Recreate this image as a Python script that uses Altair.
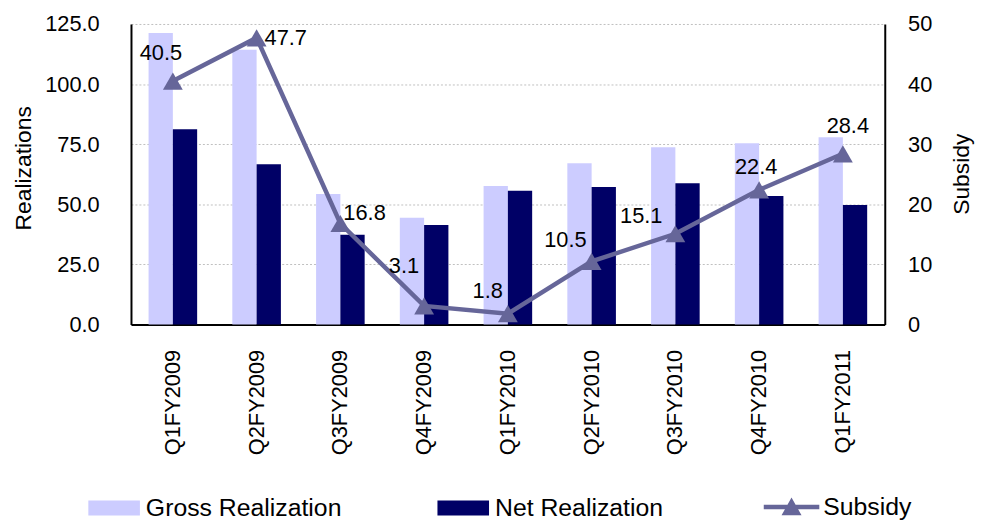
import altair as alt
import pandas as pd

categories = ["Q1FY2009", "Q2FY2009", "Q3FY2009", "Q4FY2009", "Q1FY2010",
              "Q2FY2010", "Q3FY2010", "Q4FY2010", "Q1FY2011"]
gross = [121.2, 114.3, 54.3, 44.4, 57.6, 67.1, 73.7, 75.4, 77.9]
net = [81.2, 66.7, 37.3, 41.4, 55.6, 57.2, 58.8, 53.4, 49.7]
subsidy = [40.5, 47.7, 16.8, 3.1, 1.8, 10.5, 15.1, 22.4, 28.4]
series_names = ["Gross Realization", "Net Realization"]
line_name = "Subsidy"

FONT = "Liberation Sans"
C_GROSS, C_NET, C_LINE = "#CCCCFF", "#000066", "#666699"

bars_df = pd.DataFrame({
    "cat": categories * 2,
    "series": [series_names[0]] * len(categories) + [series_names[1]] * len(categories),
    "value": gross + net,
})
sub_df = pd.DataFrame({"cat": categories, "sub": subsidy, "s": [line_name] * len(categories)})

xscale = alt.Scale(paddingInner=0.42, paddingOuter=0.21)
x_enc = alt.X("cat:N", sort=categories, scale=xscale,
              axis=alt.Axis(title=None, labelAngle=-90, ticks=False, domainColor="black",
                            domainWidth=2, labelPadding=25, labelFontSize=22))

bars = alt.Chart(bars_df).mark_bar().encode(
    x=x_enc,
    xOffset=alt.XOffset("series:N", sort=series_names,
                        scale=alt.Scale(paddingInner=0, paddingOuter=0)),
    y=alt.Y("value:Q", scale=alt.Scale(domain=[0, 125], nice=False),
            axis=alt.Axis(title="Realizations", values=[0, 25, 50, 75, 100, 125], format=".1f",
                          grid=True, gridDash=[2, 2], gridColor="#BFBFBF", gridWidth=1,
                          ticks=False, domainColor="black", domainWidth=2, labelPadding=32,
                          labelFontSize=22, titleFontSize=23, titleFontWeight="normal",
                          titleAngle=270, titleX=-101, titleY=145, titleAlign="center",
                          titleBaseline="alphabetic")),
    color=alt.Color("series:N", sort=series_names,
                    scale=alt.Scale(domain=series_names, range=[C_GROSS, C_NET]),
                    legend=alt.Legend(title=None, orient="none", legendX=-43, legendY=462,
                                      direction="horizontal", symbolType="M-1,-0.29H1V0.29H-1Z",
                                      symbolSize=2704, labelFontSize=25, labelOffset=6,
                                      labelLimit=0, columnPadding=96, labelFont=FONT,
                                      symbolStrokeWidth=0)),
)

y_right = alt.Y("sub:Q", scale=alt.Scale(domain=[0, 50], nice=False),
                axis=alt.Axis(orient="right", title="Subsidy", values=[0, 10, 20, 30, 40, 50],
                              grid=False, ticks=False, domainColor="black", domainWidth=2,
                              labelPadding=23, labelFontSize=22, titleFontSize=23,
                              titleFontWeight="normal", titleAngle=270, titleX=84, titleY=151,
                              titleAlign="center", titleBaseline="alphabetic"))

line = alt.Chart(sub_df).mark_line(color=C_LINE, strokeWidth=4.5).encode(
    x=alt.X("cat:N", sort=categories, scale=xscale), y=y_right)

points = alt.Chart(sub_df).mark_point(shape="triangle-up", filled=True, size=400, opacity=1).encode(
    x=alt.X("cat:N", sort=categories, scale=xscale), y=y_right,
    fill=alt.Fill("s:N", scale=alt.Scale(domain=[line_name], range=[C_LINE]),
                  legend=alt.Legend(title=None, orient="none", legendX=638, legendY=459,
                                    symbolType="M-1,-0.08H1V0.08H-1ZM0,-0.34L0.36,0.3L-0.36,0.3Z",
                                    symbolSize=3136, symbolStrokeWidth=0, symbolOpacity=1,
                                    labelFontSize=25, labelOffset=4, labelLimit=0,
                                    labelFont=FONT)),
)

label_place = {
    "Q1FY2009": ("center", -12, -28),
    "Q2FY2009": ("left", 8, 0),
    "Q3FY2009": ("left", 3, -11),
    "Q4FY2009": ("right", -5, -40),
    "Q1FY2010": ("right", -5, -23),
    "Q2FY2010": ("right", -5, -22),
    "Q3FY2010": ("right", -13, -18),
    "Q4FY2010": ("center", -3, -23),
    "Q1FY2011": ("center", 5, -28),
}
texts = []
for cat in categories:
    al, dx, dy = label_place[cat]
    texts.append(
        alt.Chart(sub_df).transform_filter(alt.datum.cat == cat).mark_text(
            align=al, baseline="middle", dx=dx, dy=dy, fontSize=22, font=FONT, color="black"
        ).encode(x=alt.X("cat:N", sort=categories, scale=xscale), y=y_right,
                 text=alt.Text("sub:Q", format=".1f"))
    )

right_layer = alt.layer(line, points, *texts)

chart = alt.layer(bars, right_layer).resolve_scale(y="independent").properties(
    width=760, height=303,
    autosize=alt.AutoSizeParams(type="none"),
    padding={"left": 124, "top": 14, "right": 93, "bottom": 196},
).configure_view(stroke=None).configure_axis(labelFont=FONT, titleFont=FONT, labelColor="black",
                                             titleColor="black").configure_legend(labelFont=FONT)

chart.save("out.html", embed_options={"renderer": "svg", "actions": False})
